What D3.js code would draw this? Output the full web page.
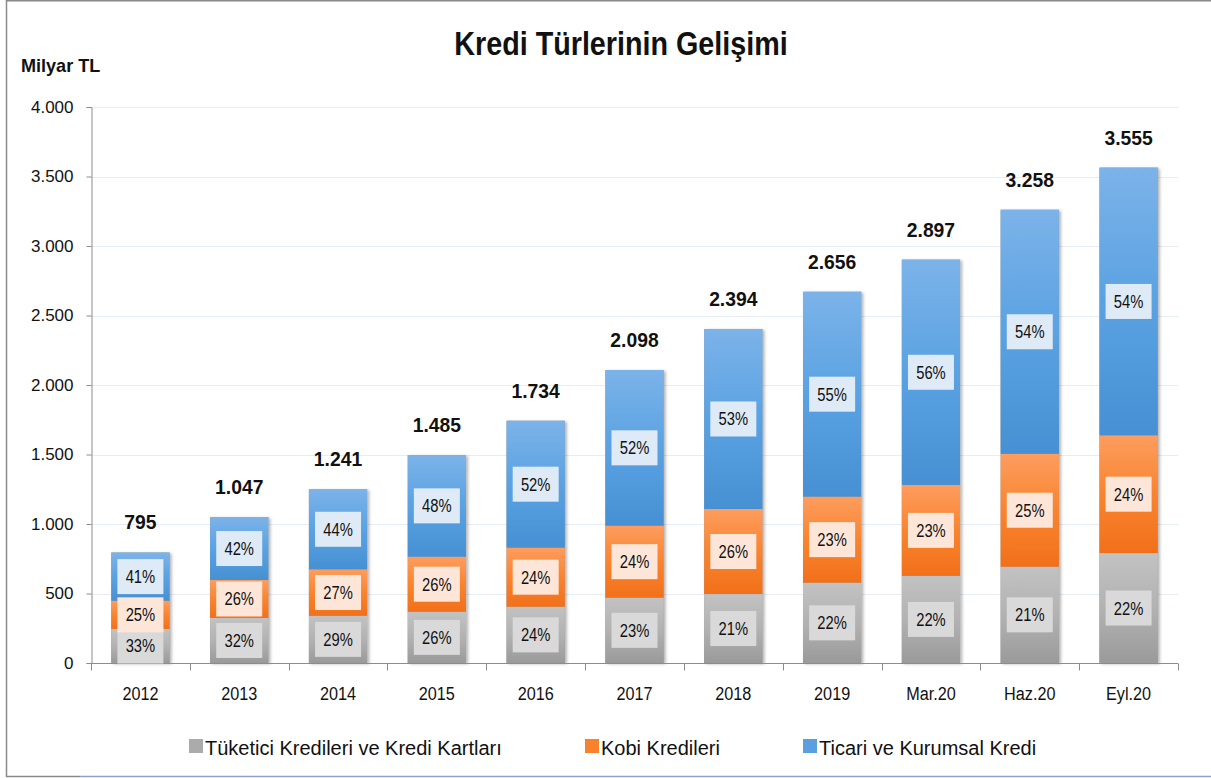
<!DOCTYPE html>
<html><head><meta charset="utf-8">
<script src="https://cdn.jsdelivr.net/npm/d3@7"></script>
<style>
html,body{margin:0;padding:0;background:#fff;}
svg{display:block;}
text{font-family:"Liberation Sans",Arial,sans-serif;fill:#111;}
</style></head>
<body>
<svg id="chart" width="1211" height="778"></svg>
<script>
const categories = ["2012","2013","2014","2015","2016","2017","2018","2019","Mar.20","Haz.20","Eyl.20"];
const totals = [795,1047,1241,1485,1734,2098,2394,2656,2897,3258,3555];
const tuketici = [245,324,340,369,405,470,496,578,627,693,791];
const kobi = [203,273,334,396,425,518,612,619,654,812,847];
const ticari = [347,453,576,731,913,1120,1295,1474,1621,1756,1926];
const pctTuketici = ["33%","32%","29%","26%","24%","23%","21%","22%","22%","21%","22%"];
const pctKobi = ["25%","26%","27%","26%","24%","24%","26%","23%","23%","25%","24%"];
const pctTicari = ["41%","42%","44%","48%","52%","52%","53%","55%","56%","54%","54%"];
const seriesNames = ["Tüketici Kredileri ve Kredi Kartları","Kobi Kredileri","Ticari ve Kurumsal Kredi"];
const yTicks = [0,500,1000,1500,2000,2500,3000,3500,4000];

const locale = d3.formatLocale({decimal:",",thousands:".",grouping:[3],currency:["","TL"]});
const fmt = locale.format(",d");

// horizontally condense text glyphs (Calibri-like look)
function condense(sel, k){
  sel.each(function(){
    const len = this.getComputedTextLength();
    d3.select(this).attr("textLength", len*k).attr("lengthAdjust","spacingAndGlyphs");
  });
}

const svg = d3.select("#chart");
// frame
svg.append("line").attr("x1",6.5).attr("x2",6.5).attr("y1",0).attr("y2",777).attr("stroke","#8a8a8a").attr("stroke-width",1.5);
svg.append("line").attr("x1",6).attr("x2",1211).attr("y1",0.75).attr("y2",0.75).attr("stroke","#8a8a8a").attr("stroke-width",1.5);
svg.append("line").attr("x1",6).attr("x2",80).attr("y1",776.5).attr("y2",776.5).attr("stroke","#8a8a8a").attr("stroke-width",1.5);
svg.append("line").attr("x1",80).attr("x2",1211).attr("y1",776.5).attr("y2",776.5).attr("stroke","#8fa2cc").attr("stroke-width",1.5);

const defs = svg.append("defs");
const grads = [
  {id:"gGray", top:"#c2c2c2", mid:"#b2b2b2", bot:"#9a9a9a"},
  {id:"gOrange", top:"#fd9d5f", mid:"#f9842f", bot:"#f2701a"},
  {id:"gBlue", top:"#7cb3e9", mid:"#5aa2e2", bot:"#4690d3"}
];
grads.forEach(g=>{
  const lg = defs.append("linearGradient").attr("id",g.id).attr("x1",0).attr("y1",0).attr("x2",0).attr("y2",1);
  lg.append("stop").attr("offset","0%").attr("stop-color",g.top);
  lg.append("stop").attr("offset","50%").attr("stop-color",g.mid);
  lg.append("stop").attr("offset","100%").attr("stop-color",g.bot);
});
const f = defs.append("filter").attr("id","shadow").attr("x","-20%").attr("y","-10%").attr("width","140%").attr("height","120%");
f.append("feDropShadow").attr("dx",2).attr("dy",1).attr("stdDeviation",1.6).attr("flood-color","#000").attr("flood-opacity",0.3);

const x = d3.scaleBand().domain(categories).range([91,1178]).paddingInner(0.41).paddingOuter(0.205);
const y = d3.scaleLinear().domain([0,4000]).range([663,107]);

// gridlines
svg.append("g").selectAll("line").data(yTicks.filter(d=>d>0)).join("line")
  .attr("x1",91).attr("x2",1178).attr("y1",d=>Math.round(y(d))+0.5).attr("y2",d=>Math.round(y(d))+0.5)
  .attr("stroke","#e6edf6").attr("stroke-width",1);

// y axis
const yAxis = svg.append("g").attr("transform","translate(91.5,0)")
  .call(d3.axisLeft(y).tickValues(yTicks).tickFormat(d=>fmt(d)).tickSize(5).tickPadding(13));
yAxis.select(".domain").attr("stroke","#8c8c8c");
yAxis.selectAll(".tick line").attr("stroke","#8c8c8c");
yAxis.selectAll("text").style("font-size","17px").attr("fill","#111").style("font-family",'"Liberation Sans",Arial,sans-serif');

// stacked data
const rows = categories.map((c,i)=>({cat:c, tuk:tuketici[i], kobi:kobi[i], tic:ticari[i]}));
const stack = d3.stack().keys(["tuk","kobi","tic"]);
const stacked = stack(rows);
const gradIds = ["gGray","gOrange","gBlue"];
const boxFill = ["#d9d9d9","#fde6d8","#deeaf6"];
const pcts = [pctTuketici,pctKobi,pctTicari];

const barsG = svg.append("g");
barsG.selectAll("rect.sh").data(rows).join("rect").attr("class","sh")
  .attr("x",d=>x(d.cat)).attr("width",x.bandwidth())
  .attr("y",d=>y(d.tuk+d.kobi+d.tic)).attr("height",d=>y(0)-y(d.tuk+d.kobi+d.tic))
  .attr("fill","#999").attr("filter","url(#shadow)");
stacked.forEach((s,si)=>{
  barsG.append("g").selectAll("rect").data(s).join("rect")
    .attr("x",d=>x(d.data.cat)).attr("width",x.bandwidth())
    .attr("y",d=>y(d[1])).attr("height",d=>y(d[0])-y(d[1]))
    .attr("fill",`url(#${gradIds[si]})`);
});

// x axis
const xAxis = svg.append("g").attr("transform","translate(0,663.5)");
xAxis.append("line").attr("x1",91).attr("x2",1178).attr("y1",0).attr("y2",0).attr("stroke","#8c8c8c");
const bounds = categories.map(c=>x(c)-x.step()*x.paddingInner()/2).concat([1178]);
bounds[0]=91;
xAxis.selectAll("line.tk").data(bounds).join("line").attr("class","tk")
  .attr("x1",d=>Math.round(d)+0.5).attr("x2",d=>Math.round(d)+0.5).attr("y1",0).attr("y2",7).attr("stroke","#8c8c8c");
xAxis.selectAll("text").data(categories).join("text")
  .attr("x",d=>x(d)+x.bandwidth()/2).attr("y",36).attr("text-anchor","middle")
  .style("font-size","18px").text(d=>d).call(condense,0.9);

// percent label boxes
const bw = 46, bh = 35;
stacked.forEach((s,si)=>{
  const g = svg.append("g");
  s.forEach((d,i)=>{
    const cx = x(d.data.cat)+x.bandwidth()/2;
    const cy = (y(d[0])+y(d[1]))/2;
    g.append("rect").attr("x",cx-bw/2).attr("y",cy-bh/2).attr("width",bw).attr("height",bh).attr("fill",boxFill[si]);
    g.append("text").attr("x",cx).attr("y",cy).attr("dy","0.36em").attr("text-anchor","middle")
      .style("font-size","18px").text(pcts[si][i]).call(condense,0.82);
  });
});

// totals
svg.append("g").selectAll("text").data(rows).join("text")
  .attr("x",d=>x(d.cat)+x.bandwidth()/2).attr("y",(d,i)=>y(d.tuk+d.kobi+d.tic)-23)
  .attr("text-anchor","middle").style("font-size","21px").style("font-weight","bold")
  .text((d,i)=>fmt(totals[i])).call(condense,0.92);

// title & unit
svg.append("text").attr("x",621).attr("y",55).attr("text-anchor","middle")
  .style("font-size","33px").style("font-weight","bold").text("Kredi Türlerinin Gelişimi").call(condense,0.87);
svg.append("text").attr("x",21).attr("y",72).style("font-size","19px").style("font-weight","bold").text("Milyar TL").call(condense,0.95);

// legend
const legendX = [189,585,803];
const legendSq = ["#ababab","#f9812c","#5a9fe0"];
const lg = svg.append("g");
seriesNames.forEach((n,i)=>{
  lg.append("rect").attr("x",legendX[i]).attr("y",739).attr("width",14).attr("height",14).attr("fill",legendSq[i]);
  lg.append("text").attr("x",legendX[i]+16).attr("y",755).style("font-size","20px").text(n);
});
</script>
</body></html>
